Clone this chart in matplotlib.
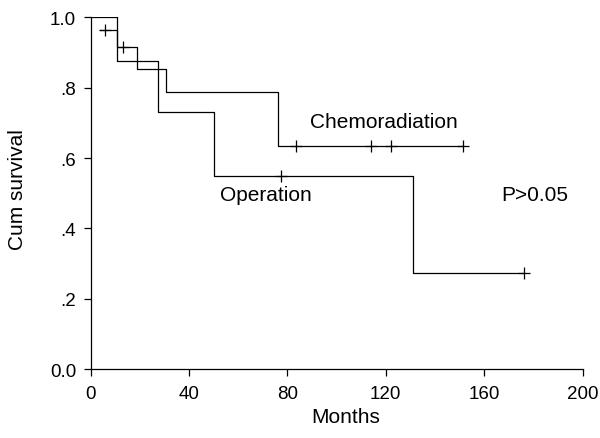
import numpy as np
import matplotlib
matplotlib.use('Agg')
import matplotlib.pyplot as plt

plt.rcParams['font.family'] = ['Liberation Sans', 'DejaVu Sans']

# Kaplan-Meier step curves (months, cumulative survival)
chemo_t = [3.8, 10.6, 18.7, 30.6, 76.3, 151.2]
chemo_s = [0.965, 0.915, 0.853, 0.788, 0.633, 0.633]
chemo_cens_t = [5.8, 13.3, 83.3, 113.9, 122.1, 151.2]
chemo_cens_s = [0.965, 0.915, 0.633, 0.633, 0.633, 0.633]

oper_t = [0, 10.6, 27.5, 50.1, 130.9, 176.1]
oper_s = [1.0, 0.877, 0.730, 0.550, 0.273, 0.273]
oper_cens_t = [77.4, 176.1]
oper_cens_s = [0.550, 0.273]

xticks = [0, 40, 80, 120, 160, 200]
yticks = [0.0, 0.2, 0.4, 0.6, 0.8, 1.0]
ytick_labels = ['0.0', '.2', '.4', '.6', '.8', '1.0']

fig = plt.figure(figsize=(6.0, 4.39), dpi=100)
ax = fig.add_axes([0.151, 0.157, 0.820, 0.801])

lw = 0.9
ax.step(chemo_t, chemo_s, where='post', color='black', lw=lw)
ax.step(oper_t, oper_s, where='post', color='black', lw=lw)
ax.plot(chemo_cens_t, chemo_cens_s, ls='none', marker='+', ms=9, mew=0.9, color='black')
ax.plot(oper_cens_t, oper_cens_s, ls='none', marker='+', ms=9, mew=0.9, color='black')

ax.text(89.2, 0.705, 'Chemoradiation', fontsize=15, va='center', ha='left')
ax.text(52.6, 0.496, 'Operation', fontsize=15, va='center', ha='left')
ax.text(167.1, 0.496, 'P>0.05', fontsize=15, va='center', ha='left')

ax.set_xlim(0, 200)
ax.set_ylim(0, 1.0)
ax.set_xticks(xticks)
ax.set_yticks(yticks)
ax.set_yticklabels(ytick_labels)
ax.tick_params(direction='out', length=5, width=0.9, labelsize=13.5)
ax.tick_params(axis='x', pad=6.5)
ax.tick_params(axis='y', pad=5.5)
for side in ['top', 'right']:
    ax.spines[side].set_visible(False)
for side in ['left', 'bottom']:
    ax.spines[side].set_linewidth(0.9)

ax.set_xlabel('Months', fontsize=15)
ax.set_ylabel('Cum survival', fontsize=15)
ax.xaxis.set_label_coords(0.519, -0.108)
ax.yaxis.set_label_coords(-0.130, 0.512)

fig.savefig('out.png', dpi=100)
